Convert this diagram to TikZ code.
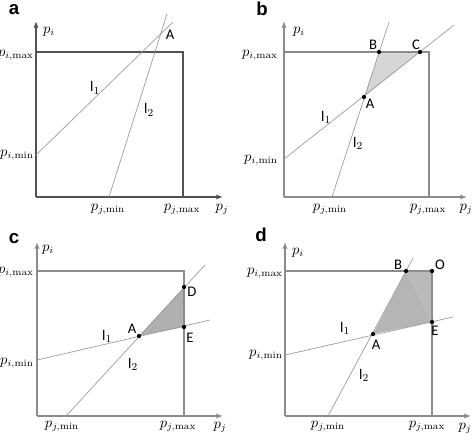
\documentclass[tikz,border=0pt]{standalone}
\usepackage{amsmath}
\usepackage{fontspec}
\setsansfont{Carlito}
\newfontfamily\panelfont{Liberation Sans}
\usepackage{tikz}
\usetikzlibrary{arrows.meta}
\pgfdeclarelayer{edgelayer}
\pgfdeclarelayer{nodelayer}
\pgfsetlayers{edgelayer,nodelayer,main}
\tikzstyle{axis}=[-{Latex[length=5pt,width=4pt]}, draw=black!45, line width=1.4pt]
\tikzstyle{darkaxis}=[-{Latex[length=5pt,width=4pt]}, draw=black!68, line width=1.1pt]
\tikzstyle{frame}=[-, draw=black!45, line width=1.4pt]
\tikzstyle{darkframe}=[-, draw=black!68, line width=1.1pt]
\tikzstyle{bound}=[-, draw=black!40, line width=0.5pt]
\tikzstyle{corner}=[circle, fill=black, inner sep=0pt, minimum size=3.2pt]
\tikzstyle{panel}=[font=\panelfont\fontsize{14}{14}\selectfont\bfseries, inner sep=0pt]
\tikzstyle{tag}=[font=\sffamily\fontsize{11}{11}\selectfont, inner sep=0pt]
\tikzstyle{val}=[font=\fontsize{10.5}{10.5}\selectfont, inner sep=0pt]

\begin{document}
\begin{tikzpicture}[x=0.75pt, y=-0.75pt]
            \useasboundingbox (0, 0) rectangle (473, 439);
            \begin{pgfonlayer}{nodelayer}
                \node [style=panel] (a) at (14, 10) {a};
                \coordinate (Oa) at (36, 197);
                \coordinate (ytipa) at (36, 21);
                \coordinate (xtipa) at (223, 197);
                \coordinate (TLa) at (36, 52);
                \coordinate (TRa) at (183, 52);
                \coordinate (BRa) at (183, 197);
                \coordinate (l1sa) at (36, 155);
                \coordinate (l1ea) at (173, 22);
                \coordinate (l2sa) at (109, 197);
                \coordinate (l2ea) at (167, 14);
                \node [style=val] (pia) at (49, 32) {$p_i$};
                \node [style=val, anchor=east] (pimaxa) at (34, 55) {$p_{i,\mathrm{max}}$};
                \node [style=val, anchor=east] (pimina) at (34, 155) {$p_{i,\mathrm{min}}$};
                \node [style=val] (pjmina) at (108, 209) {$p_{j,\mathrm{min}}$};
                \node [style=val] (pjmaxa) at (182, 209) {$p_{j,\mathrm{max}}$};
                \node [style=val] (pja) at (222, 209) {$p_j$};
                \node [style=tag] (l1a) at (95, 88) {l$_1$};
                \node [style=tag] (l2a) at (149, 110) {l$_2$};
                \node [style=tag] (Ala) at (170, 35) {A};

                \node [style=panel] (b) at (262, 9) {b};
                \coordinate (Ob) at (284, 197);
                \coordinate (ytipb) at (284, 21);
                \coordinate (xtipb) at (467, 197);
                \coordinate (TLb) at (284, 52);
                \coordinate (TRb) at (429, 52);
                \coordinate (BRb) at (429, 197);
                \coordinate (l1sb) at (284, 159);
                \coordinate (l1eb) at (454, 25);
                \coordinate (l2sb) at (332, 197);
                \coordinate (l2eb) at (389, 22);
                \node [style=corner] (Ab) at (364, 97) {};
                \node [style=corner] (Bb) at (379, 52) {};
                \node [style=corner] (Cb) at (420, 52) {};
                \node [style=val] (pib) at (299, 32) {$p_i$};
                \node [style=val, anchor=east] (pimaxb) at (278, 55) {$p_{i,\mathrm{max}}$};
                \node [style=val, anchor=east] (piminb) at (278, 160) {$p_{i,\mathrm{min}}$};
                \node [style=val] (pjminb) at (330, 209) {$p_{j,\mathrm{min}}$};
                \node [style=val] (pjmaxb) at (428, 209) {$p_{j,\mathrm{max}}$};
                \node [style=val] (pjb) at (466, 209) {$p_j$};
                \node [style=tag] (l1b) at (326, 117) {l$_1$};
                \node [style=tag] (l2b) at (358, 143) {l$_2$};
                \node [style=tag] (Alb) at (370, 104) {A};
                \node [style=tag] (Blb) at (373, 45) {B};
                \node [style=tag] (Clb) at (416, 45) {C};

                \node [style=panel] (c) at (14, 239) {c};
                \coordinate (Oc) at (37, 416);
                \coordinate (ytipc) at (37, 242);
                \coordinate (xtipc) at (223, 416);
                \coordinate (TLc) at (37, 271);
                \coordinate (TRc) at (184, 271);
                \coordinate (BRc) at (184, 416);
                \coordinate (l1sc) at (37, 360);
                \coordinate (l1ec) at (210, 320);
                \coordinate (l2sc) at (66, 416);
                \coordinate (l2ec) at (205, 265);
                \node [style=corner] (Ac) at (139, 336) {};
                \node [style=corner] (Dc) at (184, 287) {};
                \node [style=corner] (Ec) at (184, 327) {};
                \node [style=val] (pic) at (48, 250) {$p_i$};
                \node [style=val, anchor=east] (pimaxc) at (34, 272) {$p_{i,\mathrm{max}}$};
                \node [style=val, anchor=east] (piminc) at (34, 363) {$p_{i,\mathrm{min}}$};
                \node [style=val] (pjminc) at (62, 426) {$p_{j,\mathrm{min}}$};
                \node [style=val] (pjmaxc) at (178, 426) {$p_{j,\mathrm{max}}$};
                \node [style=val] (pjc) at (220, 427) {$p_j$};
                \node [style=tag] (l1c) at (107, 336) {l$_1$};
                \node [style=tag] (l2c) at (133, 364) {l$_2$};
                \node [style=tag] (Alc) at (132, 329) {A};
                \node [style=tag] (Dlc) at (192, 292) {D};
                \node [style=tag] (Elc) at (190, 338) {E};

                \node [style=panel] (d) at (261, 235) {d};
                \coordinate (Od) at (285, 416);
                \coordinate (ytipd) at (285, 242);
                \coordinate (xtipd) at (471, 416);
                \coordinate (TLd) at (285, 271);
                \coordinate (TRd) at (432, 271);
                \coordinate (BRd) at (432, 416);
                \coordinate (l1sd) at (285, 355);
                \coordinate (l1ed) at (453, 317);
                \coordinate (l2sd) at (328, 416);
                \coordinate (l2ed) at (413, 258);
                \node [style=corner] (Ad) at (373, 334) {};
                \node [style=corner] (Bd) at (406, 271) {};
                \node [style=corner] (Od2) at (432, 271) {};
                \node [style=corner] (Ed) at (432, 322) {};
                \node [style=val] (pid) at (298, 253) {$p_i$};
                \node [style=val, anchor=east] (pimaxd) at (283, 273) {$p_{i,\mathrm{max}}$};
                \node [style=val, anchor=east] (pimind) at (283, 355) {$p_{i,\mathrm{min}}$};
                \node [style=val] (pjmind) at (328, 426) {$p_{j,\mathrm{min}}$};
                \node [style=val] (pjmaxd) at (427, 426) {$p_{j,\mathrm{max}}$};
                \node [style=val] (pjd) at (465, 428) {$p_j$};
                \node [style=tag] (l1d) at (345, 328) {l$_1$};
                \node [style=tag] (l2d) at (364, 375) {l$_2$};
                \node [style=tag] (Ald) at (376, 345) {A};
                \node [style=tag] (Bld) at (398, 265) {B};
                \node [style=tag] (Old) at (440, 265) {O};
                \node [style=tag] (Eld) at (435, 331) {E};
            \end{pgfonlayer}
            \begin{pgfonlayer}{edgelayer}
                \draw [style=darkaxis] (Oa) to (ytipa);
                \draw [style=darkaxis] (Oa) to (xtipa);
                \draw [style=darkframe] (TLa) -- (TRa) -- (BRa);
                \draw [style=bound] (l1sa) to (l1ea);
                \draw [style=bound] (l2sa) to (l2ea);

                \fill [fill=black!16] (Ab.center) -- (Bb.center) -- (Cb.center) -- cycle;
                \draw [style=axis] (Ob) to (ytipb);
                \draw [style=axis] (Ob) to (xtipb);
                \draw [style=frame] (TLb) -- (TRb) -- (BRb);
                \draw [style=bound] (l1sb) to (l1eb);
                \draw [style=bound] (l2sb) to (l2eb);

                \fill [fill=black!31] (Ac.center) -- (Dc.center) -- (Ec.center) -- cycle;
                \draw [style=axis] (Oc) to (ytipc);
                \draw [style=axis] (Oc) to (xtipc);
                \draw [style=frame] (TLc) -- (TRc) -- (BRc);
                \draw [style=bound] (l1sc) to (l1ec);
                \draw [style=bound] (l2sc) to (l2ec);

                \fill [fill=black!29] (Ad.center) -- (Bd.center) -- (Ed.center) -- cycle;
                \fill [fill=black!27] (Bd.center) -- (Od2.center) -- (Ed.center) -- cycle;
                \draw [style=axis] (Od) to (ytipd);
                \draw [style=axis] (Od) to (xtipd);
                \draw [style=frame] (TLd) -- (TRd) -- (BRd);
                \draw [style=bound] (l1sd) to (l1ed);
                \draw [style=bound] (l2sd) to (l2ed);
            \end{pgfonlayer}
        \end{tikzpicture}
\end{document}
